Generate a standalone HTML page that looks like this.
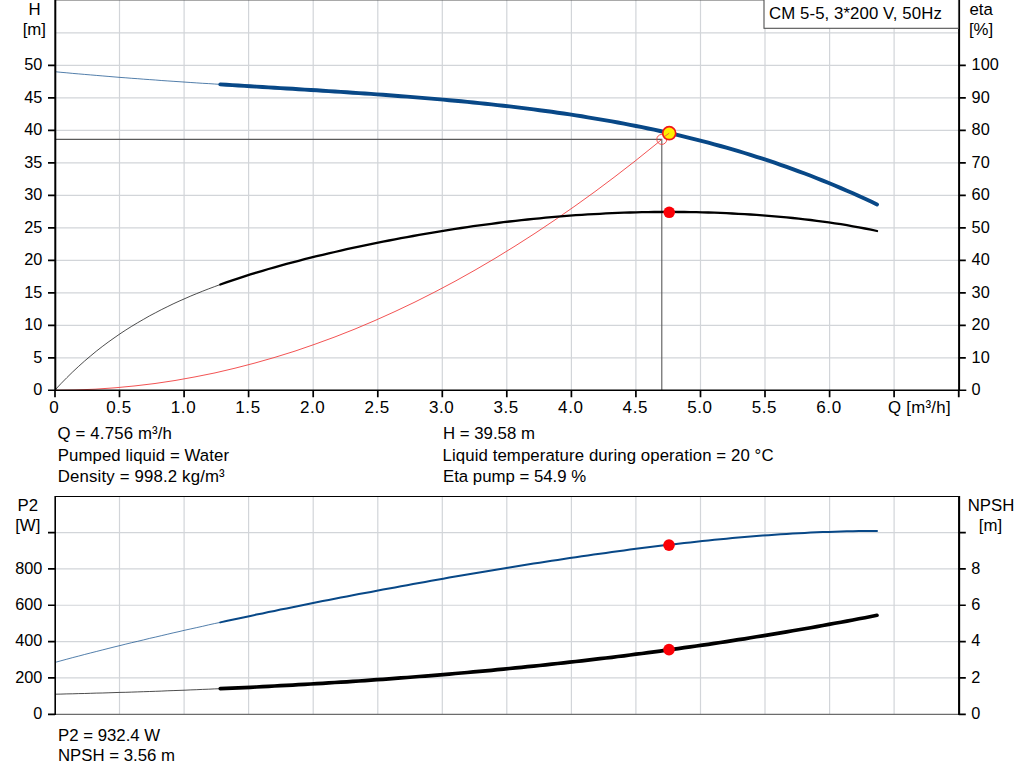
<!DOCTYPE html>
<html><head><meta charset="utf-8"><title>CM 5-5 pump curve</title>
<style>
html,body{margin:0;padding:0;background:#fff;}
body{width:1024px;height:781px;position:relative;overflow:hidden;font-family:"Liberation Sans",Arial,sans-serif;}
</style></head><body>
<svg width="1024" height="781" viewBox="0 0 1024 781" style="position:absolute;left:0;top:0">
<path d="M119.5,0 V390.3 M184.1,0 V390.3 M248.6,0 V390.3 M313.2,0 V390.3 M377.8,0 V390.3 M442.3,0 V390.3 M506.8,0 V390.3 M571.4,0 V390.3 M635.9,0 V390.3 M700.5,0 V390.3 M765.0,0 V390.3 M829.6,0 V390.3 M894.1,0 V390.3 M55.0,357.8 H958.8 M55.0,325.3 H958.8 M55.0,292.8 H958.8 M55.0,260.3 H958.8 M55.0,227.8 H958.8 M55.0,195.3 H958.8 M55.0,162.8 H958.8 M55.0,130.3 H958.8 M55.0,97.8 H958.8 M55.0,65.3 H958.8 M55.0,32.8 H958.8" stroke="#d2d5d9" stroke-width="1.2" fill="none"/>
<path d="M119.5,496.5 V714.3 M184.1,496.5 V714.3 M248.6,496.5 V714.3 M313.2,496.5 V714.3 M377.8,496.5 V714.3 M442.3,496.5 V714.3 M506.8,496.5 V714.3 M571.4,496.5 V714.3 M635.9,496.5 V714.3 M700.5,496.5 V714.3 M765.0,496.5 V714.3 M829.6,496.5 V714.3 M894.1,496.5 V714.3 M55.0,677.95 H958.8 M55.0,641.60 H958.8 M55.0,605.25 H958.8 M55.0,568.90 H958.8 M55.0,532.55 H958.8" stroke="#d2d5d9" stroke-width="1.2" fill="none"/>
<path d="M55.0,139.4 H661.8 V390.3" stroke="#5a5a5a" stroke-width="1.1" fill="none"/>
<path d="M55.0,390.3 L75.0,390.0 L95.0,389.2 L115.0,387.8 L135.0,385.9 L155.0,383.5 L175.0,380.5 L195.0,376.9 L215.0,372.9 L235.0,368.2 L255.0,363.0 L275.0,357.3 L295.0,351.1 L315.0,344.2 L335.0,336.9 L355.0,329.0 L375.0,320.5 L395.0,311.5 L415.0,302.0 L435.0,291.9 L455.0,281.3 L475.0,270.1 L495.0,258.4 L515.0,246.1 L535.0,233.3 L555.0,219.9 L575.0,206.0 L595.0,191.6 L615.0,176.6 L635.0,161.1 L655.0,145.0 L661.8,139.4" stroke="#f04040" stroke-width="0.9" fill="none"/>
<path d="M55.0,390.0 L60.9,383.7 L66.8,377.7 L72.7,371.9 L78.6,366.4 L84.5,361.1 L90.4,356.1 L96.3,351.2 L102.2,346.6 L108.1,342.2 L114.0,338.0 L119.9,333.9 L125.8,330.0 L131.7,326.3 L137.7,322.7 L143.6,319.3 L149.5,315.9 L155.4,312.8 L161.3,309.7 L167.2,306.8 L173.1,303.9 L179.0,301.2 L184.9,298.6 L190.8,296.0 L196.7,293.6 L202.6,291.2 L208.5,288.9 L214.4,286.7 L220.3,284.5" fill="none" stroke="#000" stroke-width="0.7"/>
<path d="M220.3,284.5 L226.3,282.4 L232.3,280.3 L238.4,278.3 L244.4,276.3 L250.4,274.4 L256.4,272.6 L262.5,270.8 L268.5,269.0 L274.5,267.3 L280.5,265.6 L286.6,263.9 L292.6,262.3 L298.6,260.8 L304.6,259.2 L310.7,257.7 L316.7,256.2 L322.7,254.8 L328.7,253.4 L334.8,252.0 L340.8,250.6 L346.8,249.2 L352.8,247.9 L358.9,246.6 L364.9,245.3 L370.9,244.1 L376.9,242.9 L383.0,241.7 L389.0,240.5 L395.0,239.3 L401.0,238.2 L407.1,237.1 L413.1,236.0 L419.1,234.9 L425.1,233.8 L431.2,232.8 L437.2,231.8 L443.2,230.8 L449.2,229.8 L455.3,228.9 L461.3,228.0 L467.3,227.1 L473.3,226.2 L479.4,225.4 L485.4,224.6 L491.4,223.8 L497.4,223.0 L503.5,222.2 L509.5,221.5 L515.5,220.8 L521.5,220.1 L527.6,219.5 L533.6,218.9 L539.6,218.3 L545.6,217.7 L551.7,217.1 L557.7,216.6 L563.7,216.1 L569.7,215.7 L575.8,215.2 L581.8,214.8 L587.8,214.4 L593.8,214.1 L599.9,213.8 L605.9,213.4 L611.9,213.2 L617.9,212.9 L624.0,212.7 L630.0,212.5 L636.0,212.3 L642.0,212.2 L648.1,212.1 L654.1,212.0 L660.1,212.0 L666.1,211.9 L672.2,211.9 L678.2,212.0 L684.2,212.0 L690.2,212.1 L696.3,212.2 L702.3,212.3 L708.3,212.5 L714.3,212.7 L720.4,212.9 L726.4,213.2 L732.4,213.5 L738.4,213.8 L744.5,214.1 L750.5,214.5 L756.5,214.9 L762.5,215.3 L768.6,215.8 L774.6,216.3 L780.6,216.8 L786.6,217.4 L792.7,218.0 L798.7,218.6 L804.7,219.3 L810.7,220.0 L816.8,220.8 L822.8,221.6 L828.8,222.4 L834.8,223.3 L840.9,224.2 L846.9,225.2 L852.9,226.3 L858.9,227.4 L865.0,228.5 L871.0,229.7 L877.0,231.0" fill="none" stroke="#000" stroke-width="2.3" stroke-linecap="round" stroke-linejoin="round"/>

<path d="M55.0,71.7 L60.9,72.3 L66.8,72.8 L72.7,73.4 L78.6,73.9 L84.5,74.4 L90.4,74.9 L96.3,75.4 L102.2,75.9 L108.1,76.4 L114.0,76.9 L119.9,77.4 L125.8,77.8 L131.7,78.3 L137.7,78.7 L143.6,79.2 L149.5,79.6 L155.4,80.0 L161.3,80.5 L167.2,80.9 L173.1,81.3 L179.0,81.7 L184.9,82.1 L190.8,82.5 L196.7,82.9 L202.6,83.3 L208.5,83.6 L214.4,84.0 L220.3,84.4" fill="none" stroke="#084887" stroke-width="0.7"/>
<path d="M220.3,84.4 L226.3,84.8 L232.3,85.1 L238.4,85.5 L244.4,85.9 L250.4,86.3 L256.4,86.6 L262.5,87.0 L268.5,87.4 L274.5,87.7 L280.5,88.1 L286.6,88.5 L292.6,88.8 L298.6,89.2 L304.6,89.6 L310.7,90.0 L316.7,90.3 L322.7,90.7 L328.7,91.1 L334.8,91.5 L340.8,91.9 L346.8,92.3 L352.8,92.7 L358.9,93.1 L364.9,93.5 L370.9,93.9 L376.9,94.4 L383.0,94.8 L389.0,95.2 L395.0,95.7 L401.0,96.2 L407.1,96.6 L413.1,97.1 L419.1,97.6 L425.1,98.1 L431.2,98.6 L437.2,99.1 L443.2,99.6 L449.2,100.2 L455.3,100.7 L461.3,101.3 L467.3,101.9 L473.3,102.5 L479.4,103.1 L485.4,103.7 L491.4,104.4 L497.4,105.1 L503.5,105.7 L509.5,106.4 L515.5,107.1 L521.5,107.9 L527.6,108.6 L533.6,109.4 L539.6,110.2 L545.6,111.0 L551.7,111.8 L557.7,112.7 L563.7,113.5 L569.7,114.4 L575.8,115.4 L581.8,116.3 L587.8,117.3 L593.8,118.3 L599.9,119.3 L605.9,120.3 L611.9,121.4 L617.9,122.5 L624.0,123.6 L630.0,124.8 L636.0,126.0 L642.0,127.2 L648.1,128.5 L654.1,129.7 L660.1,131.0 L666.1,132.4 L672.2,133.7 L678.2,135.2 L684.2,136.6 L690.2,138.1 L696.3,139.6 L702.3,141.1 L708.3,142.7 L714.3,144.3 L720.4,146.0 L726.4,147.7 L732.4,149.4 L738.4,151.2 L744.5,153.0 L750.5,154.9 L756.5,156.8 L762.5,158.7 L768.6,160.7 L774.6,162.7 L780.6,164.8 L786.6,166.9 L792.7,169.1 L798.7,171.3 L804.7,173.5 L810.7,175.8 L816.8,178.2 L822.8,180.6 L828.8,183.0 L834.8,185.5 L840.9,188.1 L846.9,190.7 L852.9,193.3 L858.9,196.1 L865.0,198.8 L871.0,201.6 L877.0,204.5" fill="none" stroke="#084887" stroke-width="3.9" stroke-linecap="round" stroke-linejoin="round"/>

<path d="M55.0,662.4 L60.9,660.8 L66.8,659.2 L72.7,657.6 L78.6,656.1 L84.5,654.5 L90.4,653.0 L96.3,651.5 L102.2,650.0 L108.1,648.5 L114.0,647.0 L119.9,645.6 L125.8,644.1 L131.7,642.7 L137.7,641.3 L143.6,639.9 L149.5,638.4 L155.4,637.1 L161.3,635.7 L167.2,634.3 L173.1,632.9 L179.0,631.6 L184.9,630.2 L190.8,628.9 L196.7,627.6 L202.6,626.3 L208.5,624.9 L214.4,623.6 L220.3,622.4" fill="none" stroke="#084887" stroke-width="0.7"/>
<path d="M220.3,622.4 L226.3,621.0 L232.3,619.7 L238.4,618.4 L244.4,617.2 L250.4,615.9 L256.4,614.6 L262.5,613.4 L268.5,612.1 L274.5,610.9 L280.5,609.6 L286.6,608.4 L292.6,607.2 L298.6,605.9 L304.6,604.7 L310.7,603.5 L316.7,602.3 L322.7,601.1 L328.7,600.0 L334.8,598.8 L340.8,597.6 L346.8,596.4 L352.8,595.3 L358.9,594.1 L364.9,593.0 L370.9,591.9 L376.9,590.7 L383.0,589.6 L389.0,588.5 L395.0,587.4 L401.0,586.3 L407.1,585.2 L413.1,584.1 L419.1,583.0 L425.1,581.9 L431.2,580.8 L437.2,579.7 L443.2,578.7 L449.2,577.6 L455.3,576.6 L461.3,575.5 L467.3,574.5 L473.3,573.5 L479.4,572.4 L485.4,571.4 L491.4,570.4 L497.4,569.4 L503.5,568.4 L509.5,567.5 L515.5,566.5 L521.5,565.5 L527.6,564.5 L533.6,563.6 L539.6,562.7 L545.6,561.7 L551.7,560.8 L557.7,559.9 L563.7,559.0 L569.7,558.1 L575.8,557.2 L581.8,556.3 L587.8,555.4 L593.8,554.6 L599.9,553.7 L605.9,552.9 L611.9,552.0 L617.9,551.2 L624.0,550.4 L630.0,549.6 L636.0,548.8 L642.0,548.1 L648.1,547.3 L654.1,546.6 L660.1,545.8 L666.1,545.1 L672.2,544.4 L678.2,543.7 L684.2,543.0 L690.2,542.4 L696.3,541.7 L702.3,541.1 L708.3,540.5 L714.3,539.8 L720.4,539.3 L726.4,538.7 L732.4,538.1 L738.4,537.6 L744.5,537.1 L750.5,536.6 L756.5,536.1 L762.5,535.6 L768.6,535.2 L774.6,534.8 L780.6,534.3 L786.6,534.0 L792.7,533.6 L798.7,533.2 L804.7,532.9 L810.7,532.6 L816.8,532.3 L822.8,532.1 L828.8,531.9 L834.8,531.7 L840.9,531.5 L846.9,531.3 L852.9,531.2 L858.9,531.1 L865.0,531.0 L871.0,530.9 L877.0,530.9" fill="none" stroke="#084887" stroke-width="2.0" stroke-linecap="round" stroke-linejoin="round"/>

<path d="M55.0,694.2 L60.9,694.1 L66.8,693.9 L72.7,693.8 L78.6,693.6 L84.5,693.5 L90.4,693.3 L96.3,693.1 L102.2,693.0 L108.1,692.8 L114.0,692.6 L119.9,692.4 L125.8,692.3 L131.7,692.1 L137.7,691.9 L143.6,691.7 L149.5,691.5 L155.4,691.3 L161.3,691.1 L167.2,690.8 L173.1,690.6 L179.0,690.4 L184.9,690.2 L190.8,689.9 L196.7,689.7 L202.6,689.4 L208.5,689.2 L214.4,688.9 L220.3,688.7" fill="none" stroke="#000" stroke-width="0.7"/>
<path d="M220.3,688.7 L226.3,688.4 L232.3,688.1 L238.4,687.8 L244.4,687.6 L250.4,687.3 L256.4,687.0 L262.5,686.7 L268.5,686.4 L274.5,686.0 L280.5,685.7 L286.6,685.4 L292.6,685.1 L298.6,684.7 L304.6,684.4 L310.7,684.0 L316.7,683.7 L322.7,683.3 L328.7,682.9 L334.8,682.5 L340.8,682.2 L346.8,681.8 L352.8,681.4 L358.9,681.0 L364.9,680.6 L370.9,680.1 L376.9,679.7 L383.0,679.3 L389.0,678.8 L395.0,678.4 L401.0,677.9 L407.1,677.5 L413.1,677.0 L419.1,676.5 L425.1,676.1 L431.2,675.6 L437.2,675.1 L443.2,674.6 L449.2,674.1 L455.3,673.5 L461.3,673.0 L467.3,672.5 L473.3,671.9 L479.4,671.4 L485.4,670.8 L491.4,670.3 L497.4,669.7 L503.5,669.1 L509.5,668.5 L515.5,667.9 L521.5,667.3 L527.6,666.7 L533.6,666.1 L539.6,665.5 L545.6,664.8 L551.7,664.2 L557.7,663.5 L563.7,662.9 L569.7,662.2 L575.8,661.5 L581.8,660.8 L587.8,660.1 L593.8,659.4 L599.9,658.7 L605.9,658.0 L611.9,657.3 L617.9,656.5 L624.0,655.8 L630.0,655.0 L636.0,654.2 L642.0,653.5 L648.1,652.7 L654.1,651.9 L660.1,651.1 L666.1,650.2 L672.2,649.4 L678.2,648.6 L684.2,647.7 L690.2,646.9 L696.3,646.0 L702.3,645.1 L708.3,644.3 L714.3,643.4 L720.4,642.5 L726.4,641.6 L732.4,640.6 L738.4,639.7 L744.5,638.8 L750.5,637.8 L756.5,636.8 L762.5,635.9 L768.6,634.9 L774.6,633.9 L780.6,632.9 L786.6,631.9 L792.7,630.8 L798.7,629.8 L804.7,628.7 L810.7,627.7 L816.8,626.6 L822.8,625.5 L828.8,624.4 L834.8,623.3 L840.9,622.2 L846.9,621.1 L852.9,620.0 L858.9,618.8 L865.0,617.7 L871.0,616.5 L877.0,615.3" fill="none" stroke="#000" stroke-width="3.7" stroke-linecap="round" stroke-linejoin="round"/>

<path d="M55.0,0 H958.8" stroke="#555" stroke-width="1.2"/>
<path d="M55.3,0 V391.0 M959.0999999999999,0 V391.0" stroke="#000" stroke-width="2" fill="none"/>
<path d="M48.0,390.3 H966.3" stroke="#000" stroke-width="1.5" fill="none"/>
<path d="M48.0,357.8 H55.0 M958.8,357.8 H965.8 M48.0,325.3 H55.0 M958.8,325.3 H965.8 M48.0,292.8 H55.0 M958.8,292.8 H965.8 M48.0,260.3 H55.0 M958.8,260.3 H965.8 M48.0,227.8 H55.0 M958.8,227.8 H965.8 M48.0,195.3 H55.0 M958.8,195.3 H965.8 M48.0,162.8 H55.0 M958.8,162.8 H965.8 M48.0,130.3 H55.0 M958.8,130.3 H965.8 M48.0,97.8 H55.0 M958.8,97.8 H965.8 M48.0,65.3 H55.0 M958.8,65.3 H965.8 M55.0,390.3 V397.3 M119.5,390.3 V397.3 M184.1,390.3 V397.3 M248.6,390.3 V397.3 M313.2,390.3 V397.3 M377.8,390.3 V397.3 M442.3,390.3 V397.3 M506.8,390.3 V397.3 M571.4,390.3 V397.3 M635.9,390.3 V397.3 M700.5,390.3 V397.3 M765.0,390.3 V397.3 M829.6,390.3 V397.3 M894.1,390.3 V397.3 M958.7,390.3 V397.3 M958.8,390.3 V397.3" stroke="#000" stroke-width="1.7" fill="none"/>
<path d="M55.0,496.5 H958.8" stroke="#000" stroke-width="1.2"/>
<path d="M55.0,714.4 H958.8" stroke="#6c6c6c" stroke-width="1.2"/>
<path d="M55.2,496.0 V715.0" stroke="#000" stroke-width="1.6" fill="none"/>
<path d="M959.0999999999999,496.0 V715.0" stroke="#000" stroke-width="2.1" fill="none"/>
<path d="M48.0,714.30 H55.0 M958.8,714.30 H965.8 M48.0,677.95 H55.0 M958.8,677.95 H965.8 M48.0,641.60 H55.0 M958.8,641.60 H965.8 M48.0,605.25 H55.0 M958.8,605.25 H965.8 M48.0,568.90 H55.0 M958.8,568.90 H965.8 M48.0,532.55 H55.0 M958.8,532.55 H965.8" stroke="#000" stroke-width="1.7" fill="none"/>
<circle cx="661.8" cy="139.4" r="5" fill="none" stroke="#f04040" stroke-width="0.9"/>
<circle cx="669.2" cy="133.2" r="6.5" fill="#ffee00" stroke="#f01818" stroke-width="1.7"/>
<path d="M664.8,136.4 L669.2,133.2" stroke="#f04040" stroke-width="0.8"/>
<circle cx="669.2" cy="212.3" r="5.8" fill="#fb0007"/>
<circle cx="669.0" cy="545.1" r="5.8" fill="#fb0007"/>
<circle cx="669.0" cy="649.6" r="5.8" fill="#fb0007"/>
<rect x="764" y="-1" width="194.5" height="29.3" fill="#fff" stroke="#505050" stroke-width="1.1"/>
<g font-family="'Liberation Sans', Arial, sans-serif" fill="#000">
<text x="42.3" y="395.1" text-anchor="end" font-size="16.3">0</text>
<text x="971.6" y="395.1" text-anchor="start" font-size="16.3">0</text>
<text x="42.3" y="362.6" text-anchor="end" font-size="16.3">5</text>
<text x="971.6" y="362.6" text-anchor="start" font-size="16.3">10</text>
<text x="42.3" y="330.1" text-anchor="end" font-size="16.3">10</text>
<text x="971.6" y="330.1" text-anchor="start" font-size="16.3">20</text>
<text x="42.3" y="297.6" text-anchor="end" font-size="16.3">15</text>
<text x="971.6" y="297.6" text-anchor="start" font-size="16.3">30</text>
<text x="42.3" y="265.1" text-anchor="end" font-size="16.3">20</text>
<text x="971.6" y="265.1" text-anchor="start" font-size="16.3">40</text>
<text x="42.3" y="232.6" text-anchor="end" font-size="16.3">25</text>
<text x="971.6" y="232.6" text-anchor="start" font-size="16.3">50</text>
<text x="42.3" y="200.1" text-anchor="end" font-size="16.3">30</text>
<text x="971.6" y="200.1" text-anchor="start" font-size="16.3">60</text>
<text x="42.3" y="167.6" text-anchor="end" font-size="16.3">35</text>
<text x="971.6" y="167.6" text-anchor="start" font-size="16.3">70</text>
<text x="42.3" y="135.1" text-anchor="end" font-size="16.3">40</text>
<text x="971.6" y="135.1" text-anchor="start" font-size="16.3">80</text>
<text x="42.3" y="102.6" text-anchor="end" font-size="16.3">45</text>
<text x="971.6" y="102.6" text-anchor="start" font-size="16.3">90</text>
<text x="42.3" y="70.1" text-anchor="end" font-size="16.3">50</text>
<text x="971.6" y="70.1" text-anchor="start" font-size="16.3">100</text>
<text x="34.5" y="15.3" text-anchor="middle" font-size="16.8">H</text>
<text x="34.3" y="35.2" text-anchor="middle" font-size="16.8">[m]</text>
<text x="981.2" y="15.0" text-anchor="middle" font-size="16.8">eta</text>
<text x="981.0" y="35.4" text-anchor="middle" font-size="16.8">[%]</text>
<text x="54.4" y="413" text-anchor="middle" font-size="17" letter-spacing="0.6">0</text>
<text x="119.0" y="413" text-anchor="middle" font-size="17" letter-spacing="0.6">0.5</text>
<text x="183.5" y="413" text-anchor="middle" font-size="17" letter-spacing="0.6">1.0</text>
<text x="248.0" y="413" text-anchor="middle" font-size="17" letter-spacing="0.6">1.5</text>
<text x="312.6" y="413" text-anchor="middle" font-size="17" letter-spacing="0.6">2.0</text>
<text x="377.1" y="413" text-anchor="middle" font-size="17" letter-spacing="0.6">2.5</text>
<text x="441.7" y="413" text-anchor="middle" font-size="17" letter-spacing="0.6">3.0</text>
<text x="506.2" y="413" text-anchor="middle" font-size="17" letter-spacing="0.6">3.5</text>
<text x="570.8" y="413" text-anchor="middle" font-size="17" letter-spacing="0.6">4.0</text>
<text x="635.3" y="413" text-anchor="middle" font-size="17" letter-spacing="0.6">4.5</text>
<text x="699.9" y="413" text-anchor="middle" font-size="17" letter-spacing="0.6">5.0</text>
<text x="764.4" y="413" text-anchor="middle" font-size="17" letter-spacing="0.6">5.5</text>
<text x="829.0" y="413" text-anchor="middle" font-size="17" letter-spacing="0.6">6.0</text>
<text x="888" y="413" text-anchor="start" font-size="16.8" letter-spacing="0.28">Q [m³/h]</text>
<text x="769" y="19.0" text-anchor="start" font-size="16.8" letter-spacing="0.09">CM 5-5, 3*200 V, 50Hz</text>
<text x="57.6" y="439.1" text-anchor="start" font-size="16.8" letter-spacing="0.15">Q = 4.756 m³/h</text>
<text x="57.8" y="460.6" text-anchor="start" font-size="16.8" letter-spacing="0.08">Pumped liquid = Water</text>
<text x="57.8" y="481.7" text-anchor="start" font-size="16.8" letter-spacing="0.16">Density = 998.2 kg/m³</text>
<text x="443" y="439.1" text-anchor="start" font-size="16.8">H = 39.58 m</text>
<text x="442.6" y="460.8" text-anchor="start" font-size="16.8" letter-spacing="0.09">Liquid temperature during operation = 20 °C</text>
<text x="443" y="481.7" text-anchor="start" font-size="16.8">Eta pump = 54.9 %</text>
<text x="42.3" y="719.1" text-anchor="end" font-size="16.3">0</text>
<text x="971.3" y="719.1" text-anchor="start" font-size="16.3">0</text>
<text x="42.3" y="682.7" text-anchor="end" font-size="16.3">200</text>
<text x="971.3" y="682.7" text-anchor="start" font-size="16.3">2</text>
<text x="42.3" y="646.4" text-anchor="end" font-size="16.3">400</text>
<text x="971.3" y="646.4" text-anchor="start" font-size="16.3">4</text>
<text x="42.3" y="610.0" text-anchor="end" font-size="16.3">600</text>
<text x="971.3" y="610.0" text-anchor="start" font-size="16.3">6</text>
<text x="42.3" y="573.7" text-anchor="end" font-size="16.3">800</text>
<text x="971.3" y="573.7" text-anchor="start" font-size="16.3">8</text>
<text x="27.8" y="511" text-anchor="middle" font-size="16.8">P2</text>
<text x="27.8" y="531.2" text-anchor="middle" font-size="16.8">[W]</text>
<text x="991" y="511" text-anchor="middle" font-size="16.8">NPSH</text>
<text x="990.5" y="531" text-anchor="middle" font-size="16.8">[m]</text>
<text x="58" y="740.6" text-anchor="start" font-size="16.8">P2 = 932.4 W</text>
<text x="58" y="761.2" text-anchor="start" font-size="16.8">NPSH = 3.56 m</text>
</g>
</svg>
</body></html>
